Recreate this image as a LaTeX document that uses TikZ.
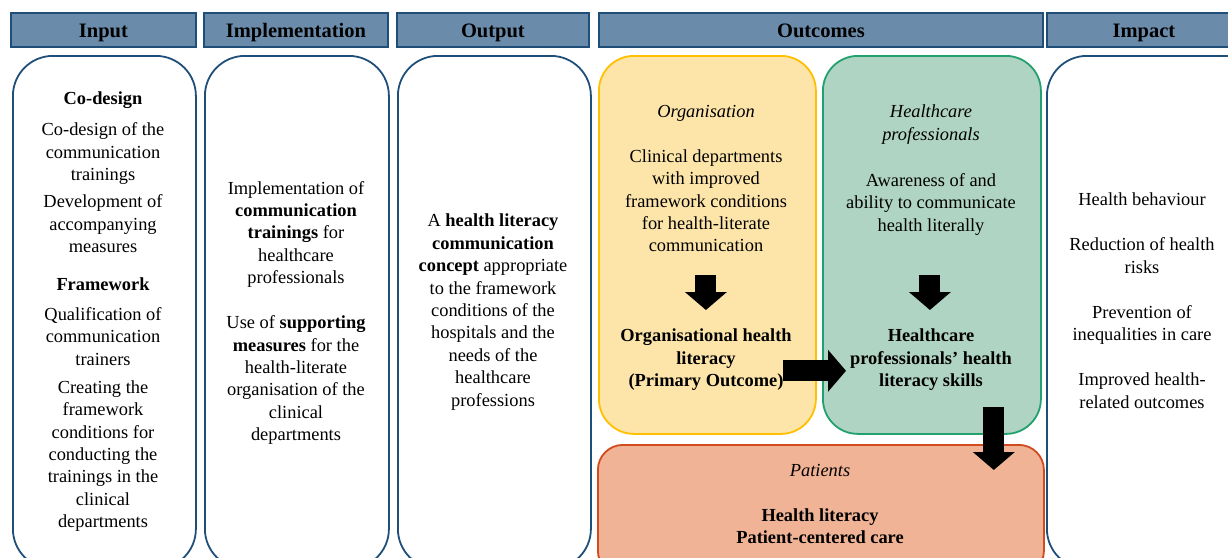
\documentclass[tikz,border=0pt]{standalone}
\usepackage{fontspec}
\setmainfont{Liberation Serif}
\usetikzlibrary{arrows.meta}
\definecolor{hdrblue}{RGB}{106,140,170}
\definecolor{navy}{RGB}{31,78,121}
\definecolor{orgfill}{RGB}{253,229,170}
\definecolor{orgline}{RGB}{255,192,0}
\definecolor{hcpfill}{RGB}{176,212,195}
\definecolor{hcpline}{RGB}{34,160,110}
\definecolor{patfill}{RGB}{240,179,149}
\definecolor{patline}{RGB}{210,75,30}
\begin{document}
\begin{tikzpicture}[x=1pt,y=-1pt,
  hdr/.style={draw=navy,fill=hdrblue,line width=1.8pt,minimum height=34pt,text height=15pt,text depth=0pt,anchor=north west,inner sep=0pt,font=\fontsize{20.5}{24}\selectfont\bfseries},
  colbox/.style={draw=navy,line width=1.8pt,rounded corners=40pt,anchor=north west,inner sep=0pt},
  txt/.style={align=center,anchor=north,inner sep=0pt,font=\fontsize{18.4}{22.4}\selectfont},
  bigarrow/.style={line width=21pt,-{Triangle[width=41pt,length=18pt]}}]
\useasboundingbox (0,0) rectangle (1228,557);
\clip (0,0) rectangle (1228,557);
% headers
\node[hdr,minimum width=185pt] (hdrin) at (10,12) {Input};
\node[hdr,minimum width=184pt] (hdrimpl) at (203,12) {Implementation};
\node[hdr,minimum width=192pt] (hdrout) at (396,12) {Output};
\node[hdr,minimum width=444pt] (hdroutc) at (598,12) {Outcomes};
\node[hdr,minimum width=194pt] (hdrimp) at (1046,12) {Impact};
% columns
\node[colbox,minimum width=183pt,minimum height=513pt] (colin) at (12,55) {};
\node[colbox,minimum width=184pt,minimum height=513pt] (colimpl) at (204,55) {};
\node[colbox,minimum width=193pt,minimum height=513pt] (colout) at (397,55) {};
\node[colbox,draw=orgline,fill=orgfill,minimum width=217pt,minimum height=378pt,rounded corners=35pt] (boxorg) at (598,55) {};
\node[colbox,draw=hcpline,fill=hcpfill,minimum width=218pt,minimum height=378pt,rounded corners=35pt] (boxhcp) at (822,55) {};
\node[colbox,draw=patline,fill=patfill,minimum width=446pt,minimum height=131pt,rounded corners=25pt] (boxpat) at (597,444) {};
\node[colbox,minimum width=234pt,minimum height=513pt] (colimp) at (1046,55) {};
% texts
\node[txt] (txtin) at (103,92) {\textbf{Co-design}\\[8.6pt]
  Co-design of the\\communication\\trainings\\[4.6pt]
  Development of\\accompanying\\measures\\[15.6pt]
  \textbf{Framework}\\[7.6pt]
  Qualification of\\communication\\trainers\\[5.6pt]
  Creating the\\framework\\conditions for\\conducting the\\trainings in the\\clinical\\departments};
\node[txt] (txtimpl) at (296,181) {Implementation of\\\textbf{communication}\\\textbf{trainings} for\\healthcare\\professionals\\[22.6pt]
  Use of \textbf{supporting}\\\textbf{measures} for the\\health-literate\\organisation of the\\clinical\\departments};
\node[txt] (txtout) at (493,214) {A \textbf{health literacy}\\\textbf{communication}\\\textbf{concept} appropriate\\to the framework\\conditions of the\\hospitals and the\\needs of the\\healthcare\\professions};
\node[txt] (orgtop) at (706,105) {\textit{Organisation}\\[22.6pt]Clinical departments\\with improved\\framework conditions\\for health-literate\\communication};
\node[txt,font=\fontsize{18.4}{22.4}\selectfont\bfseries] (orgres) at (706,329) {Organisational health\\literacy\\(Primary Outcome)};
\node[txt] (hcptop) at (931,105) {\textit{Healthcare}\\\textit{professionals}\\[23.6pt]Awareness of and\\ability to communicate\\health literally};
\node[txt,font=\fontsize{18.4}{22.4}\selectfont\bfseries] (hcpres) at (931,329) {Healthcare\\professionals’ health\\literacy skills};
\node[txt] (pattxt) at (820,464) {\textit{Patients}\\[22.6pt]\textbf{Health literacy}\\\textbf{Patient-centered care}};
\node[txt] (imptxt) at (1142,193) {Health behaviour\\[22.6pt]Reduction of health\\risks\\[22.6pt]Prevention of\\inequalities in care\\[22.6pt]Improved health-\\related outcomes};
% arrows
\draw[bigarrow] ([xshift=-1.5pt,yshift=-220pt]boxorg.north) -- ([xshift=-1.5pt,yshift=-255pt]boxorg.north);
\draw[bigarrow] ([xshift=-2pt,yshift=-220pt]boxhcp.north) -- ([xshift=-2pt,yshift=-255pt]boxhcp.north);
\draw[bigarrow] ([xshift=-34pt,yshift=64pt]boxorg.south east) -- ([xshift=24pt,yshift=64pt]boxhcp.south west);
\draw[bigarrow] ([xshift=-48pt,yshift=28pt]boxhcp.south east) -- ([xshift=-51pt,yshift=-26pt]boxpat.north east);
\end{tikzpicture}
\end{document}
